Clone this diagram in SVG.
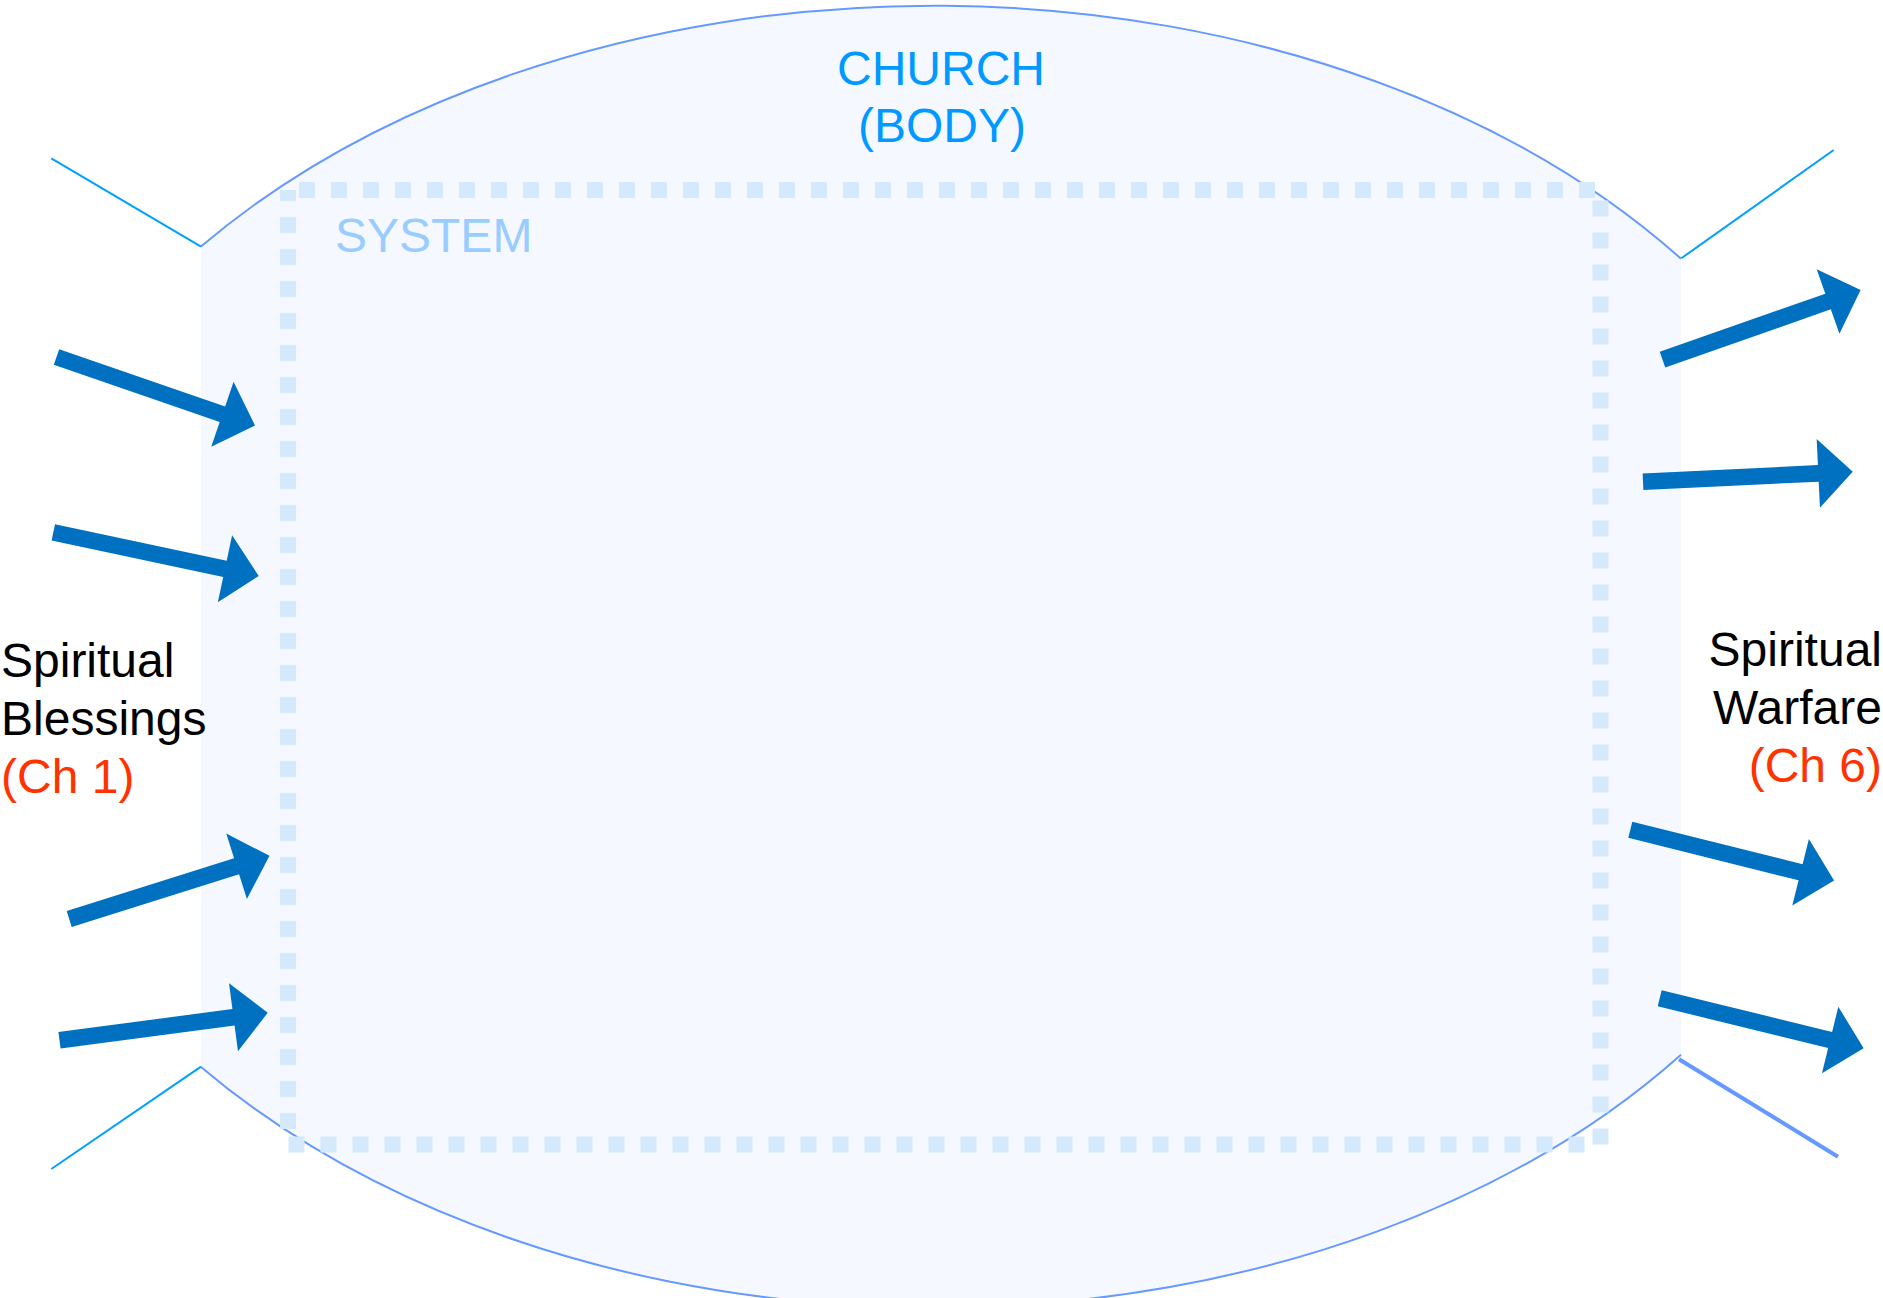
<svg xmlns="http://www.w3.org/2000/svg" xmlns:xlink="http://www.w3.org/1999/xlink" width="1883" height="1298" viewBox="0 0 1883 1298">
  <style>
    text { font-family: "Liberation Sans", Arial, sans-serif; font-size: 48px; }
    .church { fill: #0099ff; }
    .system { fill: #99ccff; }
    .label { fill: #000000; }
    .ch { fill: #ff3300; }
    .edge { fill: none; stroke: #6699ff; stroke-width: 2; }
    .side { fill: none; stroke: #00a0ff; stroke-width: 2; }
    .arrow { fill: #0070c0; }
  </style>
  <defs>
    <path id="arrow" d="M0,-8.3 L175.5,-8.3 L175.5,-34.3 L210,0 L175.5,34.3 L175.5,8.3 L0,8.3 Z"/>
  </defs>
  <rect x="0" y="0" width="1883" height="1298" fill="#ffffff"/>

  <g id="church">
    <path d="M201,246.5 A944,651 0 0 1 1681,258.7 L1681,1054.7 A944,651 0 0 1 201,1066.9 Z" fill="#f5f9ff" stroke="none"/>
    <path class="edge" d="M201,246.5 A944,651 0 0 1 1681,258.7"/>
    <path class="edge" d="M1681,1054.7 A944,651 0 0 1 201,1066.9"/>
    <text class="church" x="941" y="85" text-anchor="middle">CHURCH</text>
    <text class="church" x="942" y="142" text-anchor="middle">(BODY)</text>
  </g>

  <g id="system">
    <rect x="288" y="190" width="1312.5" height="954.5" fill="none" stroke="#d4e9fc" stroke-width="16" stroke-dasharray="16 16" stroke-dashoffset="21"/>
    <text class="system" x="335" y="252">SYSTEM</text>
  </g>

  <g id="side-lines">
    <line class="side" x1="51.3" y1="158.3" x2="201" y2="246.7"/>
    <line class="side" x1="1681.3" y1="258.3" x2="1833.7" y2="150"/>
    <line class="side" x1="201" y1="1066.7" x2="51.3" y2="1169"/>
    <line x1="1679" y1="1059.3" x2="1838" y2="1156.7" stroke="#6699ff" stroke-width="4"/>
  </g>

  <g id="blessings">
    <text class="label" x="1" y="677">Spiritual</text>
    <text class="label" x="1" y="735">Blessings</text>
    <text class="ch" x="1" y="793">(Ch 1)</text>
  </g>

  <g id="warfare">
    <text class="label" x="1882" y="666" text-anchor="end">Spiritual</text>
    <text class="label" x="1882" y="724" text-anchor="end">Warfare</text>
    <text class="ch" x="1882" y="782" text-anchor="end">(Ch 6)</text>
  </g>

  <g id="connectors">
    <use class="arrow" xlink:href="#arrow" transform="translate(56.5,357) rotate(19.03)"/>
    <use class="arrow" xlink:href="#arrow" transform="translate(53.3,532.3) rotate(12)"/>
    <use class="arrow" xlink:href="#arrow" transform="translate(69.2,919) rotate(-17.5)"/>
    <use class="arrow" xlink:href="#arrow" transform="translate(59.5,1040.2) rotate(-7.5)"/>
    <use class="arrow" xlink:href="#arrow" transform="translate(1662.5,359.7) rotate(-19.37)"/>
    <use class="arrow" xlink:href="#arrow" transform="translate(1643,481.7) rotate(-2.72)"/>
    <use class="arrow" xlink:href="#arrow" transform="translate(1630.3,829.8) rotate(14)"/>
    <use class="arrow" xlink:href="#arrow" transform="translate(1659.7,998.2) rotate(13.78)"/>
  </g>
</svg>
